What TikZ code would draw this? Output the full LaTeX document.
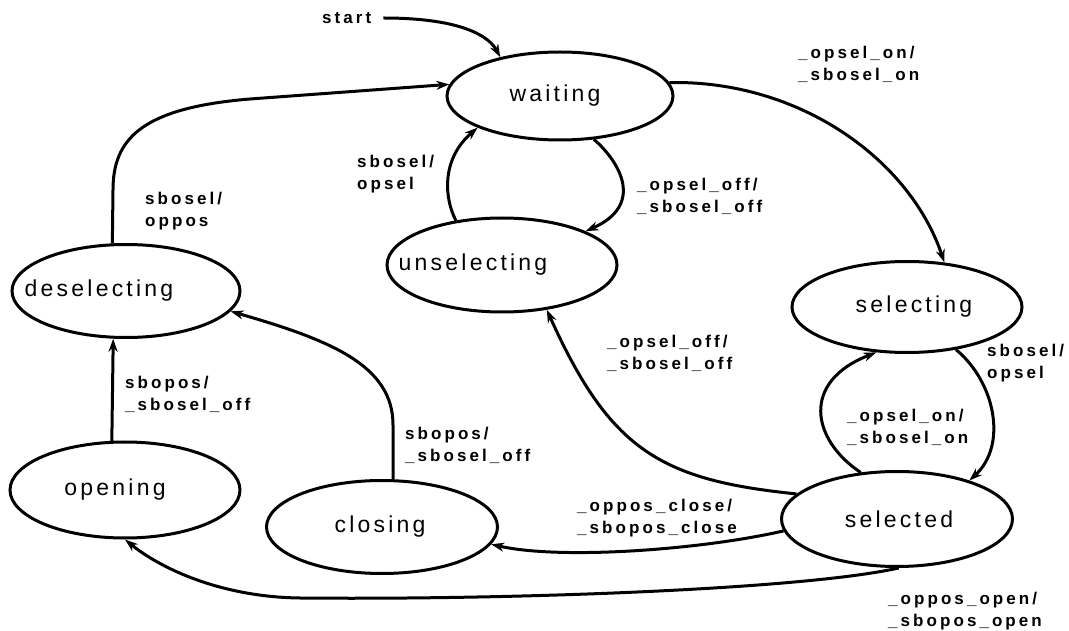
\documentclass[tikz,border=0pt]{standalone}
\usepackage{fontspec}
\setmainfont{Liberation Sans}
\newfontfamily\statefont[LetterSpace=14]{Liberation Sans}
\newfontfamily\transfont[LetterSpace=18]{Liberation Sans}
\usetikzlibrary{shapes.geometric,arrows.meta}
\newcommand{\offtext}[2]{\hspace*{#2}#1\hspace*{-#2}}
\begin{document}
\begin{tikzpicture}[x=1pt,y=1pt,
    state/.style={ellipse,draw,line width=3pt,inner sep=0pt,font=\statefont\fontsize{23}{27}\selectfont},
    trans/.style={font=\transfont\bfseries\fontsize{17}{22}\selectfont,align=left,anchor=west,inner sep=0pt},
    edge/.style={line width=3pt,-{Stealth[length=13pt,width=9pt]}}]
    \useasboundingbox (0,0) rectangle (1069,630);
    \node[state,minimum width=226pt,minimum height=88pt] (waiting) at (560,534) {\offtext{waiting}{-5pt}};
    \node[state,minimum width=230pt,minimum height=94pt] (unselecting) at (502,365) {\offtext{unselecting}{-29pt}};
    \node[state,minimum width=228pt,minimum height=93pt] (deselecting) at (126,339) {\offtext{deselecting}{-27pt}};
    \node[state,minimum width=230pt,minimum height=91pt] (selecting) at (907,323) {\offtext{selecting}{7pt}};
    \node[state,minimum width=231pt,minimum height=95pt] (selected) at (897,111) {\offtext{selected}{2pt}};
    \node[state,minimum width=230pt,minimum height=96pt] (opening) at (125,140) {\offtext{opening}{-10pt}};
    \node[state,minimum width=231pt,minimum height=93pt] (closing) at (382,103) {\offtext{closing}{-2pt}};
    \node[trans] (start) at (322,612) {start};
    \draw[edge,shorten <=12pt] (start.east) .. controls (465,612) and (490,592) .. (waiting.147);
    \draw[edge] (deselecting.106) -- (113,440) .. controls (113,490) and (140,522) .. (250,531) -- (waiting.174);
    \draw[edge] (waiting.308) .. controls (620,468) and (645,425) .. (unselecting.22);
    \draw[edge] (unselecting.136) .. controls (445,430) and (440,470) .. (waiting.201);
    \draw[edge] (waiting.7) .. controls (800,550) and (910,470) .. (selecting.50);
    \draw[edge] (selecting.319) .. controls (995,248) and (1008,185) .. (selected.28);
    \draw[edge] (selected.128) .. controls (812,190) and (800,248) .. (selecting.236);
    \draw[edge] (selected.166) .. controls (660,150) and (610,180) .. (unselecting.315);
    \draw[edge] (selected.186) .. controls (700,80) and (560,70) .. (closing.351);
    \draw[edge] (selected.272) .. controls (800,40) and (500,30) .. (300,32) .. controls (220,33) and (160,62) .. (opening.south);
    \draw[edge] (closing.77) -- (393,205) .. controls (393,265) and (330,290) .. (deselecting.349);
    \draw[edge] (opening.105) -- (deselecting.255);
    \node[trans] (desel-wait) at (145,419) {sbosel/\\oppos};
    \node[trans] (unsel-wait) at (357,456) {sbosel/\\opsel};
    \node[trans] (wait-unsel) at (637,434) {\_opsel\_off/\\\_sbosel\_off};
    \node[trans] (wait-sel) at (798,566) {\_opsel\_on/\\\_sbosel\_on};
    \node[trans] (sel-seld) at (987,267) {sbosel/\\opsel};
    \node[trans] (seld-sel) at (847,203) {\_opsel\_on/\\\_sbosel\_on};
    \node[trans] (seld-unsel) at (607,277) {\_opsel\_off/\\\_sbosel\_off};
    \node[trans] (seld-clos) at (577,112) {\_oppos\_close/\\\_sbopos\_close};
    \node[trans] (seld-open) at (888,19) {\_oppos\_open/\\\_sbopos\_open};
    \node[trans] (clos-desel) at (405,185) {sbopos/\\\_sbosel\_off};
    \node[trans] (open-desel) at (125,236) {sbopos/\\\_sbosel\_off};
\end{tikzpicture}
\end{document}
